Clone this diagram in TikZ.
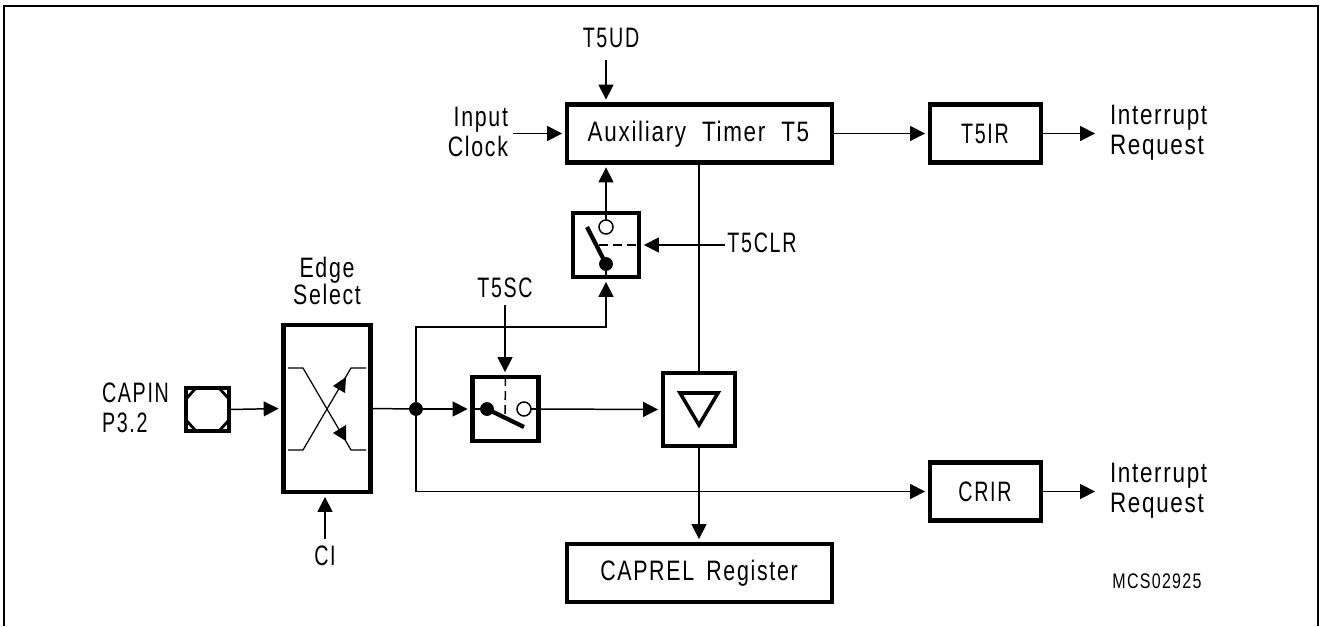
\documentclass[tikz,border=0pt]{standalone}
\usepackage{fontspec}
\setmainfont[FakeStretch=0.76,LetterSpace=6,WordSpace=1.6]{Liberation Sans}
\newfontfamily\lowf[FakeStretch=0.8,LetterSpace=6,WordSpace=2.0]{Liberation Sans}
\newfontfamily\capsf[FakeStretch=0.70,LetterSpace=6,WordSpace=1.6]{Liberation Sans}
\usetikzlibrary{arrows.meta,calc}
\def\px{0.02cm}
\tikzset{
  wire/.style={line width=0.85pt,black},
  arr/.style={wire,-{Triangle[length=8.5pt,width=8.5pt]},shorten >=2.8pt},
  thickbox/.style={draw,line width=2.3pt,outer sep=0pt,inner sep=0pt,fill=white},
  lbl/.style={inner sep=0pt,outer sep=0pt,font=\fontsize{16pt}{17pt}\selectfont,align=center},
  lblL/.style={lbl,align=left,anchor=west},
  lblR/.style={lbl,align=right,anchor=east},
  dot/.style={circle,fill=black,draw=black,inner sep=0pt,minimum size=13*\px,outer sep=0pt},
  opendot/.style={circle,fill=white,draw=black,line width=0.85pt,inner sep=0pt,minimum size=14*\px,outer sep=0pt},
  lever/.style={line width=2.4pt,black},
  dashw/.style={line width=0.85pt,dash pattern=on 5pt off 3pt},
}
\begin{document}
\begin{tikzpicture}[x=0.02cm,y=-0.02cm]
\useasboundingbox (0,0) rectangle (1323,626);
\fill[white] (0,0) rectangle (1323,626);
\draw[line width=1.4pt] (4,626)--(4,6)--(1318,6)--(1318,626);

% boxes
\node[thickbox,minimum width=265*\px,minimum height=58*\px] (aux) at (699.5,133.5) {};
\node[lbl] (auxt) at (698.5,134) {\lowf Auxiliary Timer T5};
\node[thickbox,minimum width=111*\px,minimum height=58*\px] (t5ir) at (985.5,133.5) {};
\node[lbl] (t5irt) at (985,134) {\capsf T5IR};
\node[thickbox,minimum width=111*\px,minimum height=58*\px] (crir) at (985.5,491.5) {};
\node[lbl] (crirt) at (985,492) {\capsf CRIR};
\node[thickbox,minimum width=265*\px,minimum height=58*\px] (caprel) at (699.5,573) {};
\node[lbl] (caprelt) at (699,573) {CAPREL Register};
\node[thickbox,minimum width=87*\px,minimum height=167*\px] (edge) at (327,408.5) {};
\node[thickbox,minimum width=66*\px,minimum height=64*\px] (swa) at (606,245) {};
\node[thickbox,minimum width=66*\px,minimum height=64*\px] (swb) at (505.5,409) {};
\node[thickbox,minimum width=72*\px,minimum height=73*\px] (buf) at (699,409.5) {};
\node[thickbox,line width=2pt,minimum width=43*\px,minimum height=43*\px] (pin) at (207.5,409.5) {};

% pin inner octagon
\draw[line width=1.6pt] (186,399)--(196,388) (219,388)--(229,399) (229,420)--(219,431) (196,431)--(186,420);

% labels
\node[lbl] (t5ud) at (611,38) {\capsf T5UD};
\node[lblR] (inclk) at (508,132) {Input\\Clock};
\node[lblL] (ir1) at (1110,133) {\lowf Interrupt\\\lowf Request};
\node[lblL] (ir2) at (1110,490.5) {\lowf Interrupt\\\lowf Request};
\node[lbl] (t5clr) at (762,243) {\capsf T5CLR};
\node[lbl] (t5sc) at (505,288) {\capsf T5SC};
\node[lbl] (edget) at (327,281) {Edge\\[-1.7pt]Select};
\node[lblL] (capin) at (102,408) {\capsf CAPIN\\\capsf P3.2};
\node[lbl] (ci) at (325,556) {\capsf CI};
\node[lbl,font=\fontsize{12pt}{14pt}\selectfont] (mcs) at (1157,581) {MCS02925};

% junction and waypoints
\node[dot] (jn) at (416,409) {};
\coordinate (c1) at (416,327);
\coordinate (c2) at (606,327);
\coordinate (c3) at (416,491.5);
\coordinate (udend) at (606,60);
\coordinate (scend) at (505,305);
\coordinate (clrs) at (725,245);
\coordinate (cis) at (325,539);
\coordinate (inclks) at (513,133.5);
\coordinate (ira) at (1100,133.5);
\coordinate (irb) at (1100,491.5);

% switch A internals
\node[opendot] (oa) at (606,227) {};
\node[dot] (fa) at (606,264) {};
\draw[lever] (587,227)--(fa);
\draw[dashw] (599,245)--(swa.east);
\draw[wire] (fa)--(swa.south);
% switch B internals
\node[opendot] (ob) at (524,409) {};
\node[dot] (fb) at (487,409) {};
\draw[lever] (fb)--(524,427);
\draw[dashw] (swb.north)--(505,418);
\draw[wire] (swb.west)--(fb);
% buffer triangle
\draw[line width=2pt,line join=miter] (680,393)--(718,393)--(699,425)--cycle;

% edge symbol
\draw[wire,line width=0.7pt] (288,368)--(303,368)--(351,450)--(366,450);
\draw[wire,line width=0.7pt] (288,450)--(303,450)--(351,368)--(366,368);
\fill (346,377)--(333,386)--(345,393)--cycle;
\fill (346,425)--(333,433)--(346,441)--cycle;

% connectors
\draw[arr] (udend)--(udend |- aux.north);
\draw[arr] (inclks)--(aux.west);
\draw[arr] (aux.east)--(t5ir.west);
\draw[arr] (t5ir.east)--(ira);
\draw[arr] (crir.east)--(irb);
\draw[arr] (oa.north)--(oa.north |- aux.south);
\draw[wire] (swa.north)--(oa.north);
\draw[arr] (clrs)--(swa.east);
\draw[arr] (jn.north)--(c1)--(c2)--(swa.south);
\draw[line width=1.6pt] (buf.north)--(buf.north |- aux.south);
\draw[arr] (buf.south)--(buf.south |- caprel.north);
\draw[arr] (scend)--(scend |- swb.north);
\draw[arr] (jn)--(swb.west);
\draw[arr] (ob.east)--(buf.west);
\draw[wire] (swb.east)--(ob.east);
\draw[wire] (edge.east)--(jn);
\draw[arr] (jn)--(c3)--(crir.west);
\draw[arr] (pin.east)--(edge.west);
\draw[arr] (cis)--(cis |- edge.south);
\end{tikzpicture}
\end{document}
